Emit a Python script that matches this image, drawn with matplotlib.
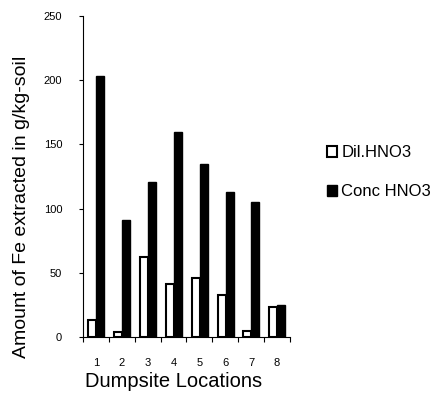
import numpy as np
import matplotlib.pyplot as plt

plt.rcParams['font.family'] = ['Liberation Sans', 'DejaVu Sans']

# Fe extracted per dumpsite location (g/kg-soil)
locations = [1, 2, 3, 4, 5, 6, 7, 8]
dil_hno3 = [13, 4, 62, 41, 46, 33, 5, 23]
conc_hno3 = [203, 91, 121, 160, 135, 113, 105, 25]

fig = plt.figure(figsize=(4.4, 3.96), dpi=100)
ax = fig.add_axes([0.1886, 0.149, 0.4704, 0.8106])

x = np.arange(len(locations)) + 1
w = 0.31
ax.bar(x - w / 2 + 0.01, dil_hno3, w, color='white', edgecolor='black',
       linewidth=1.5, label='Dil.HNO3')
ax.bar(x + w / 2 + 0.01, conc_hno3, w, color='black', edgecolor='black',
       linewidth=1.0, label='Conc HNO3')

ax.set_xlim(0.5, 8.5)
ax.set_ylim(0, 250)
ax.set_yticks([0, 50, 100, 150, 200, 250])

# category labels at centres, tick marks at group boundaries
ax.set_xticks(x)
ax.set_xticklabels([str(l) for l in locations])
ax.set_xticks(np.arange(0.5, 9, 1), minor=True)
ax.tick_params(axis='x', which='major', length=0, pad=15, labelsize=8)
ax.tick_params(axis='x', which='minor', length=3.5, width=0.8)
ax.tick_params(axis='y', length=3, width=0.8, pad=12, labelsize=8)

ax.spines['top'].set_visible(False)
ax.spines['right'].set_visible(False)

ax.set_xlabel('Dumpsite Locations', fontsize=14.5)
ax.xaxis.set_label_coords(0.44, -0.11)
ax.set_ylabel('Amount of Fe extracted in g/kg-soil', fontsize=14)
ax.yaxis.set_label_coords(-0.256, 0.405)

fig.legend(loc='upper left', bbox_to_anchor=(0.743, 0.633), frameon=False,
           fontsize=12, handlelength=0.62, handleheight=0.62, handletextpad=0.25,
           labelspacing=1.45, borderaxespad=0, borderpad=0)

fig.savefig('out.png', dpi=100)
